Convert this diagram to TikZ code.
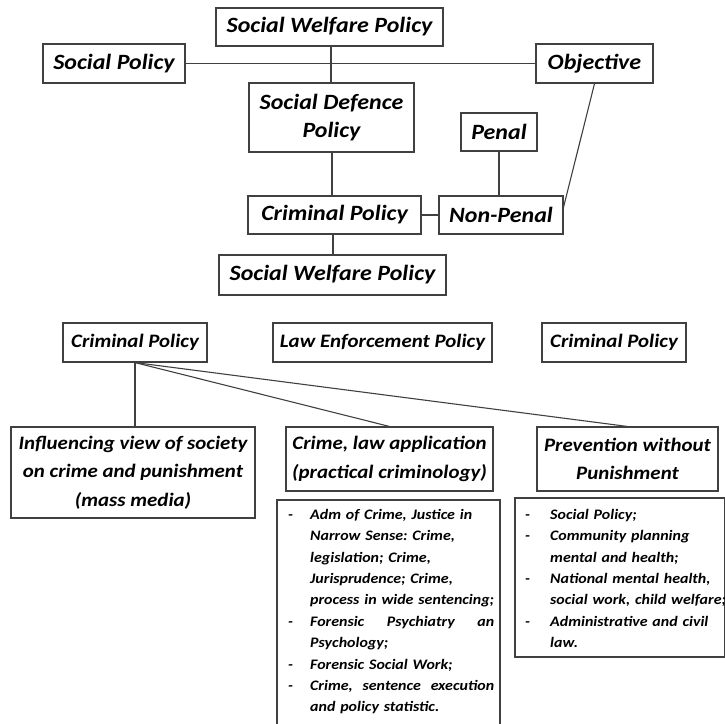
\documentclass[tikz,border=0pt]{standalone}
\usepackage{fontspec}
\setmainfont{Carlito}[FakeStretch=1.1]
\usetikzlibrary{calc}
\newcommand\dashitem[1]{\leavevmode\llap{\makebox[#1][l]{-}}}
\frenchspacing
\begin{document}
\begin{tikzpicture}[x=1pt,y=-1pt,
  bx/.style={draw=black!75, line width=1.1pt, inner sep=0pt, align=center,
    font=\bfseries\itshape\fontsize{21.8}{28}\selectfont},
  bxs/.style={bx, font=\bfseries\itshape\fontsize{19}{28.5}\selectfont},
  ln/.style={draw=black!75, line width=1.1pt},
  lst/.style={anchor=north west, inner sep=0pt, align=left, text width=215pt,
    font=\bfseries\itshape\fontsize{14.5}{21.4}\selectfont}]
\useasboundingbox (0,0) rectangle (725,723);
% top part
\node[bx, minimum width=227pt, minimum height=38pt] (swpa) at (329.5,27) {Social Welfare Policy};
\node[bx, minimum width=142pt, minimum height=39pt] (sp) at (114,63.5) {Social Policy};
\node[bx, minimum width=117pt, minimum height=39pt] (obj) at (594.5,63.5) {Objective};
\node[bx, minimum width=165pt, minimum height=69pt] (sdp) at (331.5,117.5) {Social Defence\\Policy};
\node[bx, minimum width=76pt, minimum height=38pt] (penal) at (499,132) {Penal};
\node[bx, minimum width=173pt, minimum height=38pt] (cpa) at (334.5,215) {Criminal Policy};
\node[bx, minimum width=124pt, minimum height=38pt] (np) at (501,215) {Non-Penal};
\node[bx, minimum width=227pt, minimum height=40pt] (swpb) at (332.5,275) {Social Welfare Policy};
\coordinate (npe) at ($(np.north east)!0.3!(np.south east)$);
\draw[ln] (sp.east) -- (obj.west);
\draw[ln] (swpa.south -| 331,0) -- (sdp.north -| 331,0);
\draw[ln] (sdp.south -| 332,0) -- (cpa.north -| 332,0);
\draw[ln] (cpa.south -| 333,0) -- (swpb.north -| 333,0);
\draw[ln] (cpa.east) -- (np.west);
\draw[ln] (penal.south) -- (np.north -| penal.south);
\draw[ln] (obj.south) -- (npe);
% second part
\node[bxs, minimum width=144pt, minimum height=39pt] (cpl) at (135,342.5) {Criminal Policy};
\node[bxs, minimum width=219pt, minimum height=39pt] (lep) at (382.5,342.5) {Law Enforcement Policy};
\node[bxs, minimum width=144pt, minimum height=39pt] (cpr) at (614,342.5) {Criminal Policy};
\node[bxs, minimum width=244pt, minimum height=91pt] (infl) at (133,472.5) {Influencing view of society\\on crime and punishment\\(mass media)};
\node[bxs, minimum width=207pt, minimum height=64pt] (crime) at (389.5,459) {Crime, law application\\(practical criminology)};
\node[bxs, minimum width=181pt, minimum height=64pt] (prev) at (627.5,459) {Prevention without\\Punishment};
\draw[ln] (cpl.south) -- (cpl.south |- infl.north);
\draw[ln] (cpl.south) -- (crime.north);
\draw[ln] (cpl.south) -- (prev.north);
% list boxes
\draw[ln] (277,724) -- (277,500) -- (500,500) -- (500,724);
\node[lst] (admlist) at (310,509) {%
\dashitem{22pt}Adm of Crime, Justice in\\
Narrow Sense: Crime,\\
legislation; Crime,\\
Jurisprudence; Crime,\\
process in wide sentencing;\\
\dashitem{22pt}\hbox to 184pt{Forensic\hfill Psychiatry\hfill an}\\
Psychology;\\
\dashitem{22pt}Forensic Social Work;\\
\dashitem{22pt}\hbox to 184pt{Crime,\hfill sentence\hfill execution}\\
and policy statistic.};
\draw[ln] (515,498) rectangle (724.5,657);
\node[lst] (splist) at (550,509) {%
\dashitem{25pt}Social Policy;\\
\dashitem{25pt}Community planning\\
mental and health;\\
\dashitem{25pt}National mental health,\\
social work, child welfare;\\
\dashitem{25pt}Administrative and civil\\
law.};
\end{tikzpicture}
\end{document}
